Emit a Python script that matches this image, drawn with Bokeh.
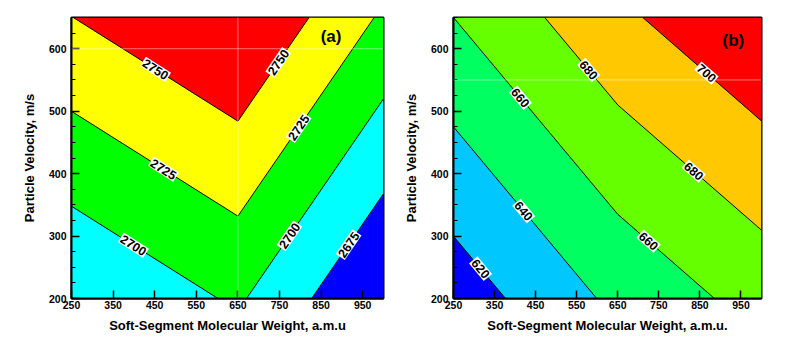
import numpy as np
from bokeh.plotting import figure
from bokeh.layouts import row
from bokeh.models import FixedTicker, Label, Span, ColumnDataSource
from bokeh.embed import file_html
from bokeh.resources import INLINE
from bokeh.core.properties import value

# ---------------- data: panel (a) ----------------
mw_a = [250, 650, 1000]            # soft-segment molecular weight grid
vel_a = [200, 425, 650]            # particle velocity grid
z_a = [                            # rows follow vel_a, columns follow mw_a
    [2675.7, 2703.3, 2647.4],
    [2712.7, 2740.3, 2684.4],
    [2749.7, 2777.3, 2721.4],
]
levels_a = [2600, 2675, 2700, 2725, 2750, 2800]
colors_a = ["#0000ff", "#00ffff", "#00ff00", "#ffff00", "#ff0000"]
label_levels_a = [2750, 2750, 2725, 2725, 2700, 2700, 2675]
label_x_a = [452, 747, 471, 796, 399, 774, 916]

# ---------------- data: panel (b) ----------------
mw_b = [250, 650, 1000]
vel_b = [200, 425, 650]
z_b = [
    [608.6, 644.6, 667.5],
    [634.3, 670.3, 693.2],
    [660.0, 696.0, 719.0],
]
levels_b = [590, 620, 640, 660, 680, 700, 730]
colors_b = ["#0000ff", "#00c8ff", "#00ff60", "#66ff00", "#ffc800", "#ff0000"]
label_levels_b = [700, 680, 680, 660, 660, 640, 620]
label_x_b = [866, 579, 835, 413, 725, 421, 316]

x_ticks = [250, 350, 450, 550, 650, 750, 850, 950]
y_ticks = [200, 300, 400, 500, 600]
y_minor = [200, 225, 250, 275, 300, 325, 350, 375, 400, 425, 450, 475,
           500, 525, 550, 575, 600, 625, 650]

FONT = "Liberation Sans"
HEIGHT = 337


def level_y(xg, yg, Z, level, x0):
    Z = np.asarray(Z, float)
    col = np.array([np.interp(x0, xg, Z[j]) for j in range(len(yg))])
    return float(np.interp(level, col, yg))


def make_panel(xg, yg, Z, levels, colors, lab_levels, lab_x, fw, fh,
               width, bl, br, bt, xlabel, tag, tag_x, tag_y, spans):
    p = figure(width=width, height=HEIGHT, x_range=(250, 1000), y_range=(200, 650),
               output_backend="svg", toolbar_location=None,
               min_border_left=bl, min_border_right=br, min_border_top=bt,
               min_border_bottom=HEIGHT - bt - fh)
    p.contour(xg, yg, np.asarray(Z, float), levels, fill_color=colors,
              line_color="black", line_width=1)

    sx = fw / 750.0
    sy = fh / 450.0
    xs, ys, angs, txt = [], [], [], []
    for lv, x0 in zip(lab_levels, lab_x):
        y0 = level_y(xg, yg, Z, lv, x0)
        dydx = (level_y(xg, yg, Z, lv, x0 + 4) - level_y(xg, yg, Z, lv, x0 - 4)) / 8.0
        xs.append(x0)
        ys.append(y0)
        angs.append(float(np.arctan(dydx * sy / sx)))
        txt.append(str(lv))
    src = ColumnDataSource(dict(x=xs, y=ys, angle=angs, text=txt))
    p.text(x="x", y="y", text="text", angle="angle", source=src,
           text_font=value(FONT), text_font_style="bold", text_font_size="12.5px",
           text_color="black", text_align="center", text_baseline="middle",
           background_fill_color="white", padding=1)

    for loc, dim in spans:
        p.add_layout(Span(location=loc, dimension=dim, line_color="white",
                          line_alpha=0.45, line_width=1))

    p.add_layout(Label(x=tag_x, y=tag_y, text=tag, text_font=FONT,
                       text_font_style="bold", text_font_size="17px",
                       text_baseline="top", text_align="left", text_color="black"))

    p.grid.visible = False
    p.outline_line_color = "black"
    p.outline_line_width = 2
    p.xaxis.ticker = FixedTicker(ticks=x_ticks)
    p.yaxis.ticker = FixedTicker(ticks=y_ticks, minor_ticks=y_minor)
    for ax in (p.xaxis[0], p.yaxis[0]):
        ax.axis_line_width = 2
        ax.major_tick_in = 8
        ax.major_tick_out = 0
        ax.minor_tick_in = 4
        ax.minor_tick_out = 0
        ax.major_tick_line_width = 1.5
        ax.major_label_text_font = FONT
        ax.major_label_text_font_style = "bold"
        ax.major_label_text_font_size = "10.5px"
        ax.major_label_text_color = "black"
        ax.axis_label_text_font = FONT
        ax.axis_label_text_font_style = "bold"
        ax.axis_label_text_font_size = "13px"
        ax.axis_label_text_color = "black"
    p.xaxis.minor_tick_line_color = None
    p.xaxis.major_label_standoff = 2
    p.xaxis.axis_label_standoff = 6
    p.yaxis.major_label_standoff = 5
    p.yaxis.axis_label_standoff = 9
    p.xaxis.axis_label = xlabel
    p.yaxis.axis_label = "Particle Velocity, m/s"
    return p


pa = make_panel(mw_a, vel_a, z_a, levels_a, colors_a, label_levels_a, label_x_a,
                fw=312, fh=284, width=400, bl=71, br=17, bt=14,
                xlabel="Soft-Segment Molecular Weight, a.m.u", tag="(a)",
                tag_x=849, tag_y=634, spans=[(650, "height"), (600, "width")])
pb = make_panel(mw_b, vel_b, z_b, levels_b, colors_b, label_levels_b, label_x_b,
                fw=308, fh=281, width=386, bl=53, br=25, bt=17,
                xlabel="Soft-Segment Molecular Weight, a.m.u.", tag="(b)",
                tag_x=905, tag_y=628, spans=[(550, "width")])

layout = row(pa, pb)
open("out.html", "w").write(file_html(layout, INLINE))
